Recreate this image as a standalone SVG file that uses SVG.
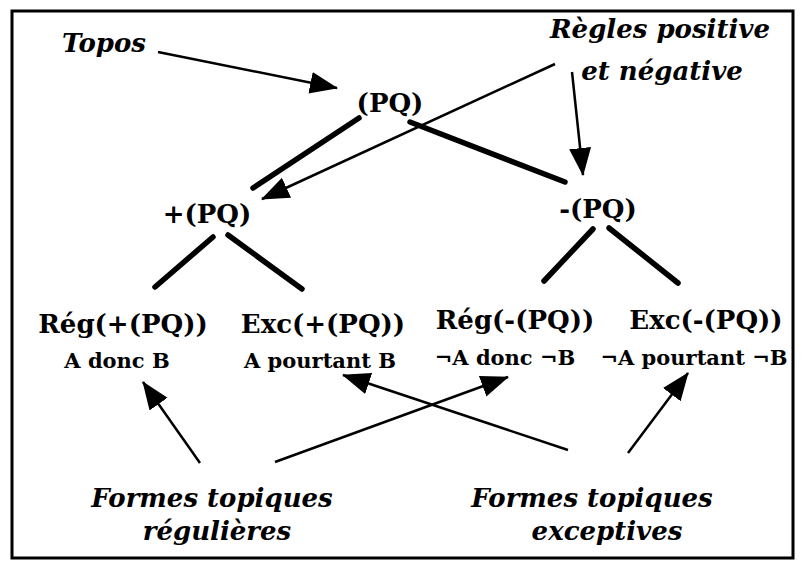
<svg xmlns="http://www.w3.org/2000/svg" width="801" height="569" viewBox="0 0 801 569">
<defs>
<marker id="ah" markerUnits="userSpaceOnUse" markerWidth="28" markerHeight="24" viewBox="0 0 28 24" refX="27" refY="12" orient="auto">
<path d="M0,1 L28,12 L0,23 z" fill="#000"/>
</marker>
<style>
.it{font-family:"DejaVu Serif",serif;font-style:italic;font-weight:bold;font-size:26px;fill:#000;text-anchor:middle}
.big{font-family:"DejaVu Serif",serif;font-weight:bold;font-size:26px;fill:#000;text-anchor:middle}
.sm{font-family:"DejaVu Serif",serif;font-weight:bold;font-size:21px;fill:#000;text-anchor:middle}
.thick{stroke:#000;stroke-width:5.5;stroke-linecap:round;fill:none}
.thin{stroke:#000;stroke-width:2.5;fill:none;marker-end:url(#ah)}
</style>
</defs>
<rect x="12" y="11" width="781" height="547" fill="#fff" stroke="#000" stroke-width="3"/>
<g id="connectors">
<line class="thick" x1="359" y1="118" x2="253" y2="188"/>
<line class="thick" x1="410" y1="122" x2="565" y2="182"/>
<line class="thick" x1="213" y1="237" x2="155" y2="287"/>
<line class="thick" x1="228" y1="235" x2="302" y2="289"/>
<line class="thick" x1="593" y1="229" x2="544" y2="281"/>
<line class="thick" x1="609" y1="228" x2="678" y2="283"/>
<line class="thin" x1="158" y1="52" x2="337" y2="88"/>
<line class="thin" x1="555" y1="64" x2="262" y2="199"/>
<line class="thin" x1="572" y1="72" x2="583" y2="175"/>
<line class="thin" x1="200" y1="463" x2="143" y2="382"/>
<line class="thin" x1="275" y1="462" x2="508" y2="377"/>
<line class="thin" x1="568" y1="450" x2="343" y2="375"/>
<line class="thin" x1="628" y1="453" x2="688" y2="373"/>
</g>
<g id="topos"><text class="it" x="104" y="52">Topos</text></g>
<g id="regles"><text class="it" x="660" y="38">Règles positive</text><text class="it" x="662" y="80">et négative</text></g>
<g id="pq"><text class="big" x="390" y="112">(PQ)</text></g>
<g id="plus-pq"><text class="big" x="207" y="223">+(PQ)</text></g>
<g id="minus-pq"><text class="big" x="598" y="218">-(PQ)</text></g>
<g id="reg-plus"><text class="big" x="123" y="333">Rég(+(PQ))</text><text class="sm" x="117" y="368">A donc B</text></g>
<g id="exc-plus"><text class="big" x="323" y="333">Exc(+(PQ))</text><text class="sm" x="320" y="368">A pourtant B</text></g>
<g id="reg-minus"><text class="big" x="515" y="329">Rég(-(PQ))</text><text class="sm" x="505" y="365">¬A donc ¬B</text></g>
<g id="exc-minus"><text class="big" x="706" y="329">Exc(-(PQ))</text><text class="sm" x="694" y="365">¬A pourtant ¬B</text></g>
<g id="formes-reg"><text class="it" x="212" y="507">Formes topiques</text><text class="it" x="217" y="540">régulières</text></g>
<g id="formes-exc"><text class="it" x="592" y="507">Formes topiques</text><text class="it" x="607" y="540">exceptives</text></g>
</svg>
